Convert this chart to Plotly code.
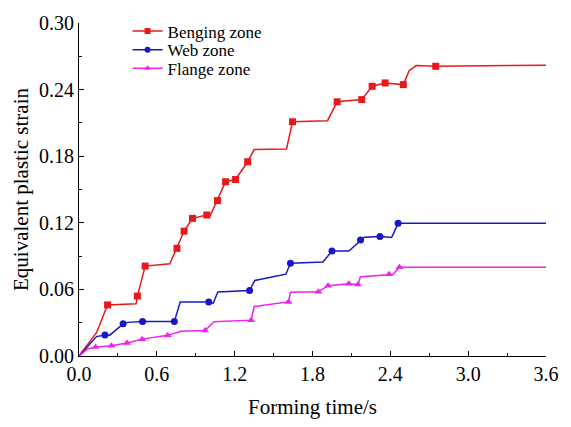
import plotly.graph_objects as go

# ---- data ----
x_ticks = [0.0, 0.6, 1.2, 1.8, 2.4, 3.0, 3.6]
y_ticks = [0.00, 0.06, 0.12, 0.18, 0.24, 0.30]

# Bending zone: line vertices
bend_t = [0, 0.135, 0.22, 0.44, 0.45, 0.51, 0.70, 0.755, 0.81, 0.875, 0.985, 1.01,
          1.067, 1.13, 1.207, 1.30, 1.35, 1.60, 1.646, 1.916, 1.99, 2.18, 2.26, 2.36,
          2.50, 2.545, 2.60, 2.75, 3.6]
bend_v = [0, 0.021, 0.046, 0.047, 0.054, 0.081, 0.083, 0.097, 0.1125, 0.124, 0.127, 0.126,
          0.140, 0.157, 0.159, 0.175, 0.186, 0.1865, 0.211, 0.212, 0.229, 0.231, 0.243, 0.246,
          0.2445, 0.257, 0.2616, 0.261, 0.262]
# Bending zone: marked points
bend_mt = [0.22, 0.45, 0.51, 0.755, 0.81, 0.875, 0.985, 1.067, 1.13, 1.207, 1.30,
           1.646, 1.99, 2.18, 2.26, 2.36, 2.50, 2.75]
bend_mv = [0.046, 0.054, 0.081, 0.097, 0.1125, 0.124, 0.127, 0.140, 0.157, 0.159, 0.175,
           0.211, 0.229, 0.231, 0.243, 0.246, 0.2445, 0.261]

# Web zone
web_t = [0, 0.135, 0.20, 0.237, 0.34, 0.377, 0.49, 0.735, 0.78, 1.0, 1.035, 1.07, 1.315,
         1.355, 1.595, 1.63, 1.88, 1.95, 2.08, 2.17, 2.20, 2.32, 2.41, 2.46, 3.6]
web_v = [0, 0.0175, 0.019, 0.0188, 0.029, 0.0303, 0.031, 0.031, 0.0486, 0.0486, 0.0476,
         0.0577, 0.059, 0.068, 0.0737, 0.0836, 0.0846, 0.0945, 0.0945, 0.1045, 0.107,
         0.1076, 0.1068, 0.1195, 0.1195]
web_mt = [0.20, 0.34, 0.49, 0.735, 1.0, 1.315, 1.63, 1.95, 2.17, 2.32, 2.46]
web_mv = [0.019, 0.029, 0.031, 0.031, 0.0486, 0.059, 0.0836, 0.0945, 0.1045, 0.1076, 0.1195]

# Flange zone
flange_t = [0, 0.07, 0.128, 0.25, 0.37, 0.487, 0.684, 0.786, 0.972, 1.04, 1.327, 1.35,
            1.615, 1.63, 1.845, 1.92, 2.08, 2.15, 2.17, 2.39, 2.42, 2.47, 3.6]
flange_v = [0, 0.0066, 0.008, 0.0092, 0.0117, 0.0152, 0.0186, 0.0223, 0.0229, 0.0308,
            0.0323, 0.0446, 0.0487, 0.0574, 0.0578, 0.0634, 0.065, 0.0644, 0.0714, 0.0737,
            0.0735, 0.080, 0.080]
flange_mt = [0.128, 0.25, 0.37, 0.487, 0.684, 0.972, 1.327, 1.615, 1.845, 1.92, 2.08,
             2.15, 2.39, 2.47]
flange_mv = [0.008, 0.0092, 0.0117, 0.0152, 0.0186, 0.0229, 0.0323, 0.0487, 0.0578,
             0.0634, 0.065, 0.0644, 0.0737, 0.080]

series_names = ["Benging zone", "Web zone", "Flange zone"]

series = [
    (series_names[0], bend_t, bend_v, bend_mt, bend_mv, "#e8191c", "square", "legend"),
    (series_names[1], web_t, web_v, web_mt, web_mv, "#1818c8", "circle", "legend2"),
    (series_names[2], flange_t, flange_v, flange_mt, flange_mv, "#ee22ee", "triangle-up", "legend3"),
]

fig = go.Figure()
for name, t, v, mt, mv, col, sym, lg in series:
    fig.add_trace(go.Scatter(x=t, y=v, mode="lines", line=dict(color=col, width=1.5),
                             showlegend=False, hoverinfo="skip"))
    fig.add_trace(go.Scatter(x=mt, y=mv, mode="markers",
                             marker=dict(symbol=sym, size=7, color=col),
                             showlegend=False))
for name, t, v, mt, mv, col, sym, lg in series:
    fig.add_trace(go.Scatter(x=[None], y=[None], mode="lines+markers", name=name,
                             legend=lg,
                             line=dict(color=col, width=1.5),
                             marker=dict(symbol=sym, size=6, color=col)))

font_family = "Liberation Serif, Times New Roman, serif"
leg_common = dict(x=0.104, xanchor="left", yanchor="middle",
                  bgcolor="rgba(0,0,0,0)", font=dict(size=17, family=font_family))
fig.update_layout(
    width=571, height=427,
    margin=dict(l=79, r=22, t=15, b=61),
    paper_bgcolor="white", plot_bgcolor="white",
    font=dict(family=font_family, color="black"),
    showlegend=True,
    legend=dict(y=0.975, **leg_common),
    legend2=dict(y=0.918, **leg_common),
    legend3=dict(y=0.863, **leg_common),
)
fig.update_xaxes(range=[0, 3.6], tickvals=x_ticks, ticktext=[f"{v:.1f}" for v in x_ticks],
                 showline=True, linecolor="black", linewidth=1, mirror=False,
                 ticks="inside", ticklen=5, tickcolor="black", showgrid=False, zeroline=False,
                 minor=dict(ticks="inside", ticklen=3, tickcolor="black", dtick=0.3, tick0=0),
                 tickfont=dict(size=20), title=dict(text="Forming time/s", font=dict(size=21)))
fig.update_yaxes(range=[0, 0.30], tickvals=y_ticks, ticktext=[f"{v:.2f}" for v in y_ticks],
                 showline=True, linecolor="black", linewidth=1, mirror=False,
                 ticks="inside", ticklen=5, tickcolor="black", showgrid=False, zeroline=False,
                 minor=dict(ticks="inside", ticklen=3, tickcolor="black", dtick=0.03, tick0=0),
                 tickfont=dict(size=20),
                 title=dict(text="Equivalent plastic strain", font=dict(size=21), standoff=4))

fig.write_html("out.html")
